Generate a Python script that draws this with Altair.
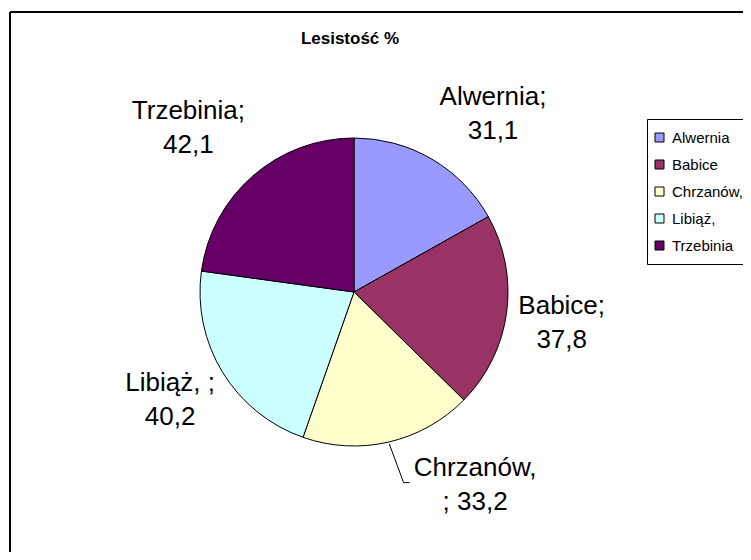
import math
import altair as alt
import pandas as pd

# ---- data ----
title_text = "Lesistość %"
names = ["Alwernia", "Babice", "Chrzanów,", "Libiąż,", "Trzebinia"]
values = [31.1, 37.8, 33.2, 40.2, 42.1]
label_line1 = ["Alwernia;", "Babice;", "Chrzanów,", "Libiąż, ;", "Trzebinia;"]
label_prefix2 = ["", "", "; ", "", ""]
colors = ["#9999FF", "#993366", "#FFFFCC", "#CCFFFF", "#660066"]

# ---- layout / style ----
W, H = 733, 540
CX, CY, R = 344, 280, 154
FONT = "Liberation Sans"
label_shift_deg = [7.6, 0.9, -19.0, 1.1, -4.2]
label_radius = [226, 210, 228, 213, 233]

total = sum(values)
rows = []
cum = 0.0
for i, (n, v) in enumerate(zip(names, values)):
    mid = (cum + v / 2) / total * 2 * math.pi
    cum += v
    txt = label_line1[i] + "\n" + label_prefix2[i] + f"{v:.1f}".replace(".", ",")
    rows.append({
        "name": n, "value": v, "idx": i, "mid": mid,
        "label": txt,
        "lab_rad": mid + math.radians(label_shift_deg[i]),
        "lab_r": label_radius[i],
    })
df = pd.DataFrame(rows)

# leader line for Chrzanów label
m = df.loc[2, "mid"]
p1 = (CX + 156 * math.sin(m), CY - 156 * math.cos(m))
a2 = m - math.radians(1.5)
p2 = (CX + 197 * math.sin(a2), CY - 197 * math.cos(a2))
p3 = (p2[0] + 6, p2[1])
leader = pd.DataFrame({"x": [p1[0], p2[0], p3[0]], "y": [p1[1], p2[1], p3[1]], "o": [0, 1, 2]})

pie = alt.Chart(df).mark_arc(outerRadius=R, stroke="black", strokeWidth=1).encode(
    theta=alt.Theta("value:Q", stack=True),
    order=alt.Order("idx:Q"),
    color=alt.Color(
        "name:N",
        sort=names,
        scale=alt.Scale(domain=names, range=colors),
        legend=alt.Legend(
            title=None, orient="none", legendX=637, legendY=107,
            symbolType="square", symbolSize=81, symbolStrokeColor="black",
            symbolStrokeWidth=1, symbolOpacity=1,
            labelFont=FONT, labelFontSize=15, labelColor="black", labelOffset=5,
            labelLimit=300, clipHeight=27,
            rowPadding=0, padding=5, strokeColor="black", fillColor="white",
        ),
    ),
    x=alt.value(CX),
    y=alt.value(CY),
)

labels = alt.Chart(df).mark_text(
    font=FONT, fontSize=26, lineBreak="\n", lineHeight=34,
    align="center", baseline="middle", color="black", dy=-17,
).encode(
    theta=alt.Theta("lab_rad:Q", scale=None, stack=False),
    radius=alt.Radius("lab_r:Q", scale=None),
    text="label:N",
    x=alt.value(CX),
    y=alt.value(CY),
)

line = alt.Chart(leader).mark_line(color="black", strokeWidth=1).encode(
    x=alt.X("x:Q", scale=None),
    y=alt.Y("y:Q", scale=None),
    order="o:Q",
)

title = alt.Chart(pd.DataFrame({"t": [title_text]})).mark_text(
    font=FONT, fontSize=17, fontWeight="bold", color="black"
).encode(text="t:N", x=alt.value(340), y=alt.value(27))

border_left = alt.Chart(pd.DataFrame({"k": [0]})).mark_rule(
    color="black", strokeWidth=2
).encode(x=alt.value(0), y=alt.value(0), y2=alt.value(H))

border_top = alt.Chart(pd.DataFrame({"k": [0]})).mark_rule(
    color="black", strokeWidth=2
).encode(x=alt.value(0), x2=alt.value(W), y=alt.value(0))

chart = alt.layer(pie, labels, line, title, border_left, border_top).resolve_scale(
    theta="independent", radius="independent"
).properties(
    width=W, height=H,
    padding={"left": 2, "top": 4, "right": 0, "bottom": 0},
    autosize=alt.AutoSizeParams(type="none"),
    background="white",
).configure_view(stroke=None)

chart.save("out.html", embed_options={"renderer": "svg", "actions": False})
